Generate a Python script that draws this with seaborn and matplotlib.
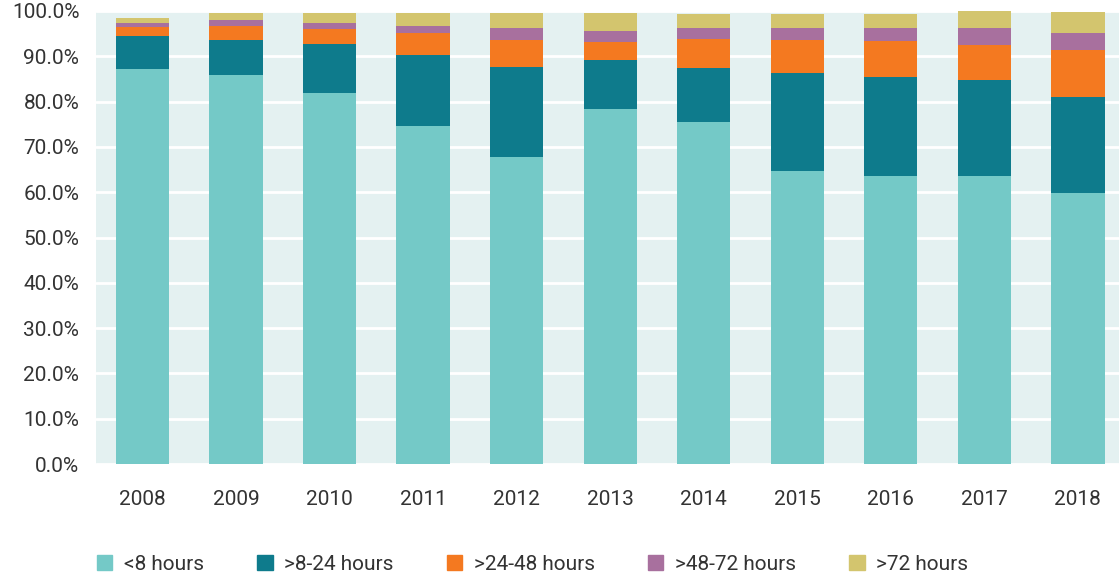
import matplotlib
matplotlib.use("Agg")
import matplotlib.pyplot as plt
import matplotlib.patches as mpatches
import numpy as np
import pandas as pd
import seaborn as sns

years = ["2008", "2009", "2010", "2011", "2012", "2013",
         "2014", "2015", "2016", "2017", "2018"]
under_8 = [87.2, 85.8, 81.9, 74.6, 67.8, 78.4, 75.5, 64.7, 63.6, 63.6, 59.8]
h8_24 = [7.3, 7.8, 10.8, 15.7, 19.8, 10.8, 11.9, 21.6, 21.8, 21.2, 21.2]
h24_48 = [2.0, 3.1, 3.3, 4.8, 6.0, 4.0, 6.4, 7.3, 8.0, 7.7, 10.4]
h48_72 = [0.9, 1.3, 1.4, 1.6, 2.6, 2.4, 2.4, 2.6, 2.8, 3.7, 3.7]
over_72 = [1.1, 1.6, 2.2, 2.9, 3.4, 4.0, 3.1, 3.1, 3.1, 3.8, 4.7]

series_names = ["<8 hours", ">8-24 hours", ">24-48 hours", ">48-72 hours", ">72 hours"]
colors = ["#74C9C7", "#0E7B8C", "#F47920", "#A8709E", "#D3C56E"]

sns.set_style("white")
plt.rcParams["font.family"] = ["Roboto", "DejaVu Sans"]

df = pd.DataFrame({
    "year": years,
    series_names[0]: under_8,
    series_names[1]: h8_24,
    series_names[2]: h24_48,
    series_names[3]: h48_72,
    series_names[4]: over_72,
})
cum = df[series_names].cumsum(axis=1)

fig = plt.figure(figsize=(11.19, 5.75), dpi=100)
ax = fig.add_axes([96 / 1119, 1 - 464 / 575, 1 - 96 / 1119, (464 - 11) / 575])
ax.set_facecolor("#E4F1F1")

# draw cumulative totals from the top layer down so each sits on the one below
for name, color in reversed(list(zip(series_names, colors))):
    sns.barplot(x=df["year"], y=cum[name], color=color, width=0.57,
                saturation=1, linewidth=0, ax=ax, zorder=3)

ax.set_ylim(0, 100)
ax.set_xlim(-0.497, 10.44)
ax.set_yticks(np.arange(0, 101, 10))
ax.set_yticklabels([f"{v:.1f}%" for v in range(0, 101, 10)])
ax.yaxis.grid(True, color="white", linewidth=2)
ax.set_axisbelow(True)
ax.set_xlabel("")
ax.set_ylabel("")
for s in ax.spines.values():
    s.set_visible(False)
ax.tick_params(axis="both", length=0, labelsize=15, labelcolor="#333333")
ax.tick_params(axis="x", pad=19)
ax.tick_params(axis="y", pad=12)

handles = [mpatches.Patch(color=c, label=n) for n, c in zip(series_names, colors)]
fig.legend(handles=handles, loc="center left", bbox_to_anchor=(78 / 1119, 1 - 564 / 575),
           ncol=5, frameon=False, fontsize=15, handlelength=0.75, handleheight=0.75,
           handletextpad=0.55, columnspacing=2.55, labelcolor="#333333")

fig.savefig("out.png", dpi=100)
